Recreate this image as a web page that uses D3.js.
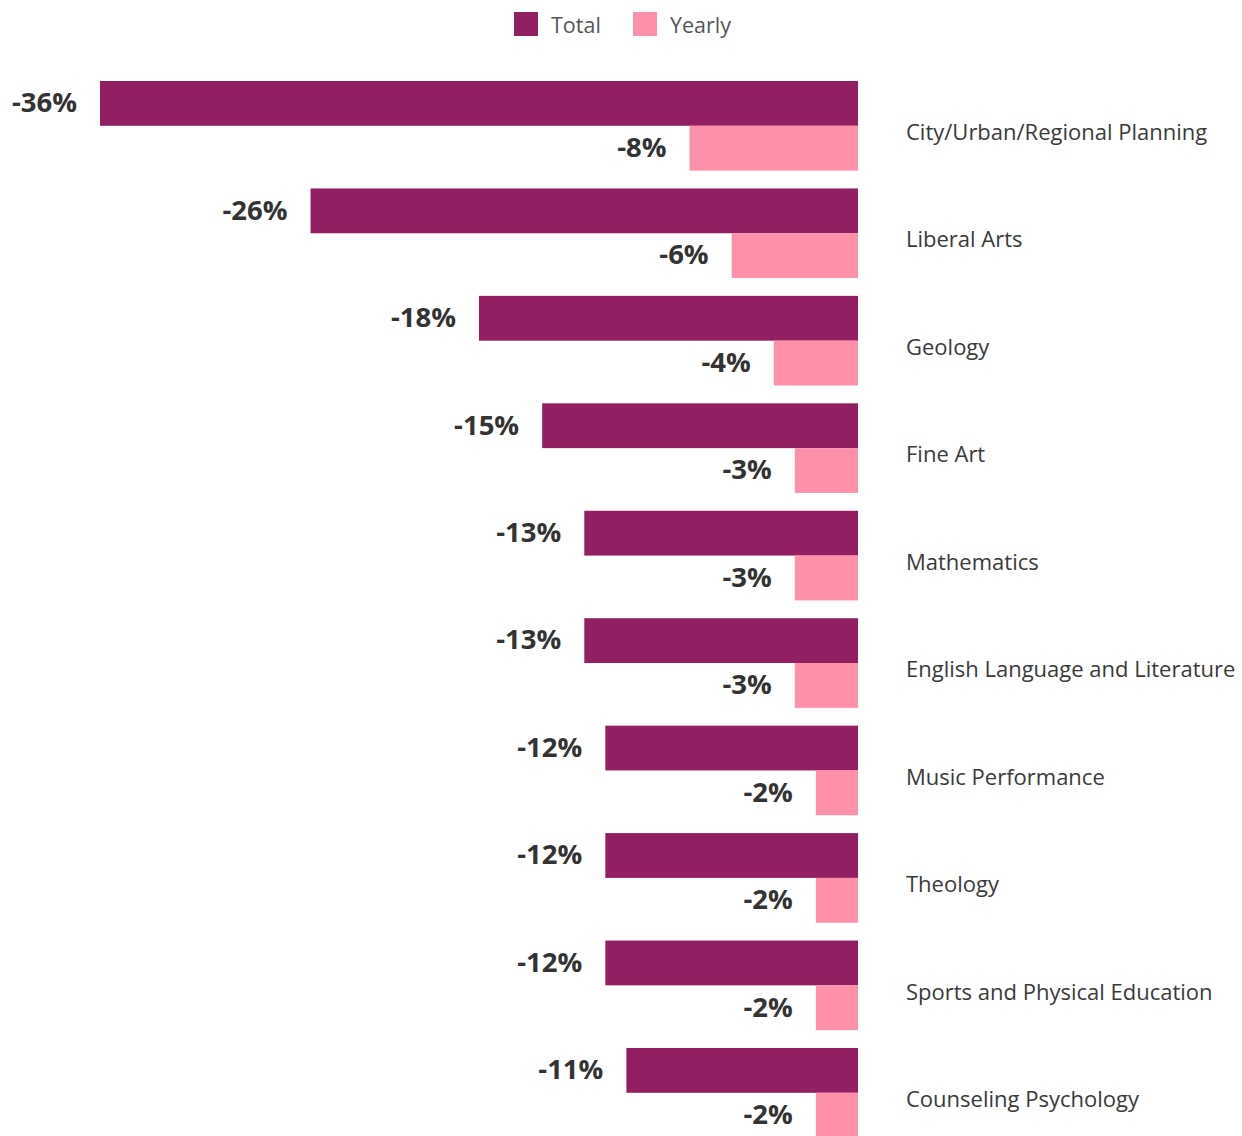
<!DOCTYPE html>
<html>
<head>
<meta charset="utf-8">
<script src="https://cdn.jsdelivr.net/npm/d3@7"></script>
<style>
  html, body { margin: 0; padding: 0; background: #fff; }
  svg { display: block; font-family: "Open Sans", sans-serif; }
</style>
</head>
<body>
<svg id="chart" width="1242" height="1136"></svg>
<script>
// Fields of study and their enrollment change (percent)
const categories = [
  "City/Urban/Regional Planning",
  "Liberal Arts",
  "Geology",
  "Fine Art",
  "Mathematics",
  "English Language and Literature",
  "Music Performance",
  "Theology",
  "Sports and Physical Education",
  "Counseling Psychology"
];
const totalChange  = [-36, -26, -18, -15, -13, -13, -12, -12, -12, -11];
const yearlyChange = [-8, -6, -4, -3, -3, -3, -2, -2, -2, -2];
const seriesNames  = ["Total", "Yearly"];
const seriesColors = ["#931f63", "#ff90aa"];

const rows = categories.map((c, i) => ({ category: c, Total: totalChange[i], Yearly: yearlyChange[i] }));

const svg = d3.select("#chart");

const x = d3.scaleLinear().domain([-36, 0]).range([100, 858]);

const y = d3.scaleBand()
  .domain(categories)
  .range([81, 1137.6])
  .paddingInner(0.166)
  .paddingOuter(0);

const ySub = d3.scaleBand()
  .domain(seriesNames)
  .range([0, y.bandwidth()]);

const color = d3.scaleOrdinal().domain(seriesNames).range(seriesColors);

// bars
const group = svg.append("g")
  .selectAll("g")
  .data(rows)
  .join("g")
  .attr("transform", d => `translate(0,${y(d.category)})`);

group.selectAll("rect")
  .data(d => seriesNames.map(k => ({ key: k, value: d[k] })))
  .join("rect")
  .attr("x", d => x(d.value))
  .attr("y", d => ySub(d.key))
  .attr("width", d => x(0) - x(d.value))
  .attr("height", ySub.bandwidth())
  .attr("fill", d => color(d.key));

// value labels left of each bar
group.selectAll("text.value")
  .data(d => seriesNames.map(k => ({ key: k, value: d[k] })))
  .join("text")
  .attr("class", "value")
  .attr("x", d => x(d.value) - 23)
  .attr("y", d => ySub(d.key) + ySub.bandwidth() / 2)
  .attr("dy", "0.32em")
  .attr("text-anchor", "end")
  .attr("font-size", 27.5)
  .attr("font-weight", 700)
  .attr("fill", "#333")
  .text(d => d.value + "%");

// category labels on the right
group.append("text")
  .attr("x", 906)
  .attr("y", y.bandwidth() / 2 + 6.5)
  .attr("dy", "0.35em")
  .attr("font-size", 22)
  .attr("fill", "#3a3a3a")
  .text(d => d.category);

// legend
const legend = svg.append("g");
const legendX = [514, 633];
seriesNames.forEach((k, i) => {
  legend.append("rect")
    .attr("x", legendX[i]).attr("y", 12)
    .attr("width", 24).attr("height", 24)
    .attr("fill", color(k));
  legend.append("text")
    .attr("x", legendX[i] + 37).attr("y", 25.2)
    .attr("dy", "0.35em")
    .attr("font-size", 21.5)
    .attr("fill", "#555")
    .text(k);
});
</script>
</body>
</html>
